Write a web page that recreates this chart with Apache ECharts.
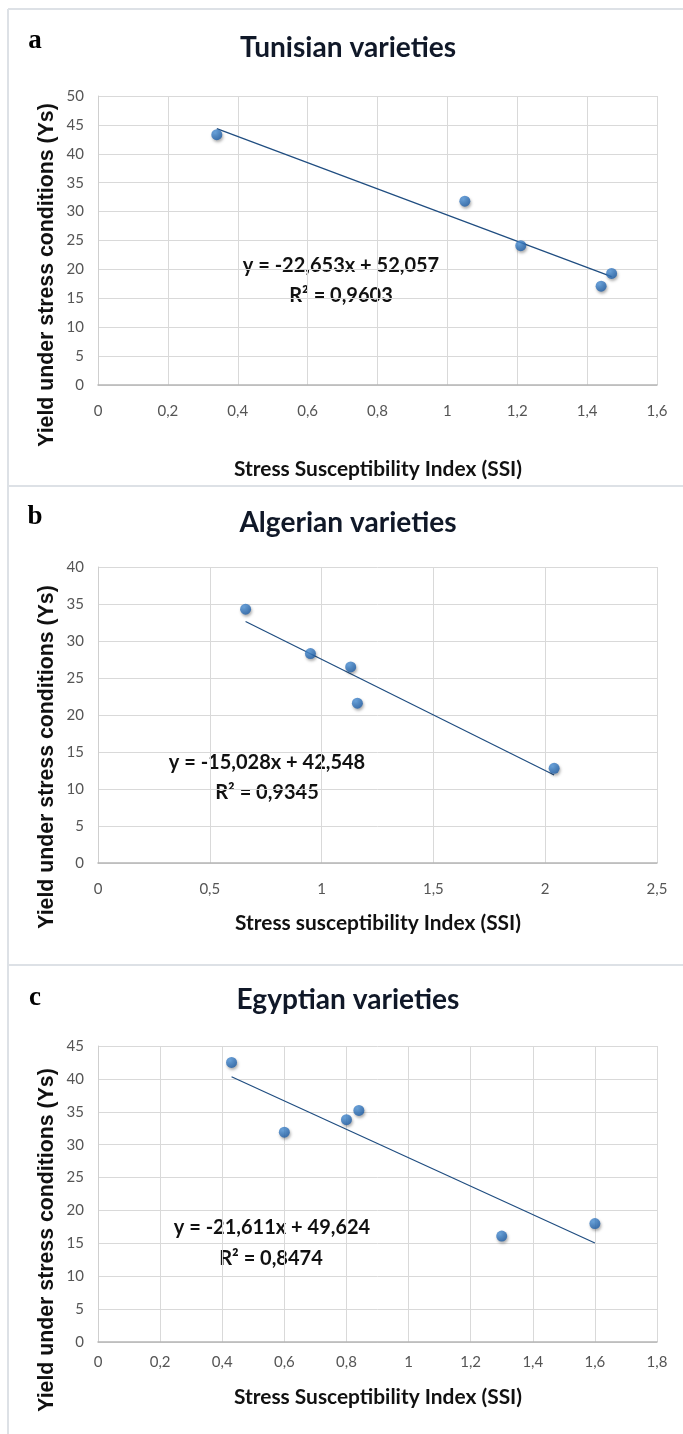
<!DOCTYPE html>
<html>
<head>
<meta charset="utf-8">
<script src="https://cdn.jsdelivr.net/npm/echarts@6/dist/echarts.min.js"></script>
<style>
html,body{margin:0;padding:0;background:#fff;}
#chart{width:683px;height:1434px;}
</style>
</head>
<body>
<div id="chart"></div>
<script>
// ---- data ----
const ssiA = [0.34, 1.05, 1.21, 1.44, 1.47];
const ysA  = [43.3, 31.8, 24.1, 17.1, 19.3];
const ssiB = [0.66, 0.95, 1.13, 1.16, 2.04];
const ysB  = [34.3, 28.3, 26.5, 21.6, 12.8];
const ssiC = [0.43, 0.60, 0.80, 0.84, 1.30, 1.60];
const ysC  = [42.5, 31.9, 33.8, 35.2, 16.1, 18.0];

// regression coefficients printed on the chart
const slopeA = -22.653, interceptA = 52.057;
const slopeB = -15.028, interceptB = 42.548;
const slopeC = -21.611, interceptC = 49.624;

const titles = ['Tunisian varieties', 'Algerian varieties', 'Egyptian varieties'];
const panelLetters = ['a', 'b', 'c'];
const xTitles = ['Stress Susceptibility Index (SSI)', 'Stress susceptibility Index (SSI)', 'Stress Susceptibility Index (SSI)'];
const yTitle = 'Yield under stress conditions (Ys)';
const eqTexts = ['y = -22,653x + 52,057', 'y = -15,028x + 42,548', 'y = -21,611x + 49,624'];
const r2Texts = ['R\u00B2 = 0,9603', 'R\u00B2 = 0,9345', 'R\u00B2 = 0,8474'];

const xTicksA = ['0','0,2','0,4','0,6','0,8','1','1,2','1,4','1,6'];
const xTicksB = ['0','0,5','1','1,5','2','2,5'];
const xTicksC = ['0','0,2','0,4','0,6','0,8','1','1,2','1,4','1,6','1,8'];
const yTicksA = ['0','5','10','15','20','25','30','35','40','45','50'];
const yTicksB = ['0','5','10','15','20','25','30','35','40'];
const yTicksC = ['0','5','10','15','20','25','30','35','40','45'];

// ---- helpers ----
const mctx = document.createElement('canvas').getContext('2d');
function fitSize(text, weight, family, target) {
  mctx.font = weight + ' 100px ' + family;
  const w = mctx.measureText(text).width;
  return Math.round(100 * target / w * 10) / 10;
}
function zip(xs, ys) { return xs.map((x, i) => [x, ys[i]]); }
function trend(xs, m, b) {
  const lo = Math.min(...xs), hi = Math.max(...xs);
  return [[lo, m * lo + b], [hi, m * hi + b]];
}

const SANS = 'Lato, "Open Sans", sans-serif';
const ARIAL = '"Liberation Sans", Arial, sans-serif';
const SERIF = '"Liberation Serif", "Times New Roman", serif';

const panels = [
  {top: 96, height: 289, xmax: 1.6, xint: 0.2, ymax: 50, xt: xTicksA, yt: yTicksA, xs: ssiA, ys: ysA, m: slopeA, b: interceptA, lblMargin: 20,
   titleY: 48, letterY: 41, xTitleY: 469, yTitleY: 275, eq: [341, 266], r2: [341, 296]},
  {top: 567, height: 296, xmax: 2.5, xint: 0.5, ymax: 40, xt: xTicksB, yt: yTicksB, xs: ssiB, ys: ysB, m: slopeB, b: interceptB, lblMargin: 20,
   titleY: 523, letterY: 517, xTitleY: 923, yTitleY: 757, eq: [267, 763], r2: [267, 793]},
  {top: 1046, height: 296, xmax: 1.8, xint: 0.2, ymax: 45, xt: xTicksC, yt: yTicksC, xs: ssiC, ys: ysC, m: slopeC, b: interceptC, lblMargin: 14,
   titleY: 1000, letterY: 998, xTitleY: 1397, yTitleY: 1240, eq: [272, 1228], r2: [271, 1259]}
];

const grids = [], xAxes = [], yAxes = [], series = [], graphics = [];
const border = '#dde1e6';
graphics.push({type: 'line', shape: {x1: 8, y1: 9, x2: 683, y2: 9}, style: {stroke: border, lineWidth: 2}});
graphics.push({type: 'line', shape: {x1: 8, y1: 9, x2: 8, y2: 1434}, style: {stroke: border, lineWidth: 2}});
graphics.push({type: 'line', shape: {x1: 8, y1: 486, x2: 683, y2: 486}, style: {stroke: border, lineWidth: 2}});
graphics.push({type: 'line', shape: {x1: 8, y1: 965, x2: 683, y2: 965}, style: {stroke: border, lineWidth: 2}});

const titleSize = fitSize(titles[0], 'bold', SANS, 216);
const xTitleSize = fitSize(xTitles[0], 'bold', SANS, 288);
const yTitleSize = fitSize(yTitle, 'bold', ARIAL, 344);
const eqSize = fitSize(eqTexts[0], 'bold', SANS, 196);

function txt(x, y, text, font, fill, rot) {
  const g = {type: 'text', x: x, y: y, silent: true,
    style: {x: 0, y: 0, text: text, font: font, fill: fill,
      align: 'center', verticalAlign: 'middle', textAlign: 'center', textVerticalAlign: 'middle'}};
  if (rot) g.rotation = rot;
  return g;
}

panels.forEach((p, i) => {
  grids.push({left: 98, width: 559, top: p.top, height: p.height, containLabel: false});
  xAxes.push({
    type: 'value', gridIndex: i, min: 0, max: p.xmax, interval: p.xint,
    axisLine: {show: true, onZero: false, lineStyle: {color: '#b5b5b5', width: 1.5}},
    axisTick: {show: false},
    splitLine: {show: true, lineStyle: {color: '#d9d9d9', width: 1}},
    axisLabel: {margin: p.lblMargin - 1, fontFamily: SANS, fontSize: 15, color: '#555555',
      formatter: (v, idx) => p.xt[idx]}
  });
  yAxes.push({
    type: 'value', gridIndex: i, min: 0, max: p.ymax, interval: 5,
    axisLine: {show: true, lineStyle: {color: '#cfcfcf', width: 1}},
    axisTick: {show: false},
    splitLine: {show: true, lineStyle: {color: '#d9d9d9', width: 1}},
    axisLabel: {margin: 14, fontFamily: SANS, fontSize: 15, color: '#555555',
      formatter: (v, idx) => p.yt[idx]}
  });
  series.push({
    type: 'line', xAxisIndex: i, yAxisIndex: i, data: trend(p.xs, p.m, p.b),
    showSymbol: false, symbol: 'none', silent: true, z: 2,
    lineStyle: {color: '#1f4d80', width: 1.2}
  });
  series.push({
    type: 'scatter', xAxisIndex: i, yAxisIndex: i, data: zip(p.xs, p.ys),
    symbol: 'circle', symbolSize: 11, z: 3,
    itemStyle: {
      color: {type: 'radial', x: 0.38, y: 0.35, r: 0.7,
        colorStops: [{offset: 0, color: '#4f95da'}, {offset: 1, color: '#1c5ca6'}]},
      shadowBlur: 3, shadowColor: 'rgba(0,0,0,0.4)', shadowOffsetX: 1, shadowOffsetY: 2
    }
  });
  graphics.push(txt(348, p.titleY, titles[i], 'bold ' + titleSize + 'px ' + SANS, '#101828'));
  graphics.push(txt(35, p.letterY, panelLetters[i], 'bold 27px ' + SERIF, '#000'));
  graphics.push(txt(378, p.xTitleY, xTitles[i], 'bold ' + xTitleSize + 'px ' + SANS, '#111'));
  graphics.push(txt(47, p.yTitleY, yTitle, 'bold ' + yTitleSize + 'px ' + ARIAL, '#111', Math.PI / 2));
  graphics.push(txt(p.eq[0], p.eq[1], eqTexts[i], 'bold ' + eqSize + 'px ' + SANS, '#111'));
  graphics.push(txt(p.r2[0], p.r2[1], r2Texts[i], 'bold ' + eqSize + 'px ' + SANS, '#111'));
});

const chart = echarts.init(document.getElementById('chart'), null, {renderer: 'canvas'});
chart.setOption({
  animation: false,
  backgroundColor: '#ffffff',
  grid: grids, xAxis: xAxes, yAxis: yAxes, series: series,
  graphic: {elements: graphics}
});
</script>
</body>
</html>
